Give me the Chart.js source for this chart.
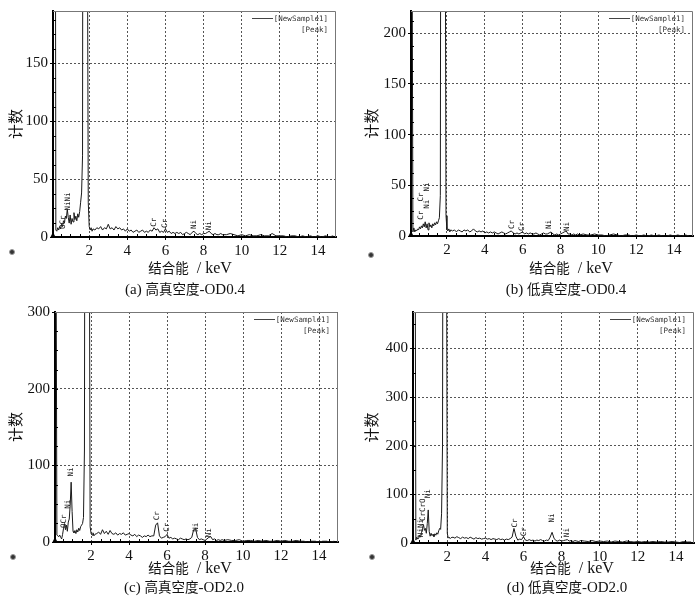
<!DOCTYPE html>
<html lang="zh">
<head>
<meta charset="UTF-8">
<title>EDS 能谱</title>
<script src="https://cdn.jsdelivr.net/npm/chart.js"></script>
<style>
  body { margin: 0; width: 700px; height: 596px; background: #fff; overflow: hidden; position: relative;
         font-family: "Liberation Serif", serif; color: #111; }
  .panel { position: absolute; width: 350px; height: 300px; }
  .xt, .cap { position: absolute; transform: translateX(-50%); white-space: nowrap; line-height: 16px; }
  .xt { font-size: 16px; }
  .cap { font-size: 15px; }
  .cjk { font-family: "Noto Sans CJK SC", sans-serif; font-size: 13.5px; }
  .dot { position: absolute; width: 4px; height: 4px; border-radius: 50%; background: #333; border: 1px solid #999; }
</style>
</head>
<body>
<div class="panel" style="left:0;top:0"><canvas id="pa"></canvas></div>
<div class="panel" style="left:350px;top:0"><canvas id="pb"></canvas></div>
<div class="panel" style="left:0;top:300px"><canvas id="pc"></canvas></div>
<div class="panel" style="left:350px;top:300px"><canvas id="pd"></canvas></div>

<div class="xt" style="left:190px;top:259px"><span class="cjk">结合能</span> &nbsp;/ keV</div>
<div class="xt" style="left:571px;top:259px"><span class="cjk">结合能</span> &nbsp;/ keV</div>
<div class="xt" style="left:190px;top:559px"><span class="cjk">结合能</span> &nbsp;/ keV</div>
<div class="xt" style="left:572px;top:559px"><span class="cjk">结合能</span> &nbsp;/ keV</div>

<div class="cap" style="left:185px;top:280px">(a) <span class="cjk">高真空度</span>-OD0.4</div>
<div class="cap" style="left:566px;top:280px">(b) <span class="cjk">低真空度</span>-OD0.4</div>
<div class="cap" style="left:184px;top:578px">(c) <span class="cjk">高真空度</span>-OD2.0</div>
<div class="cap" style="left:567px;top:578px">(d) <span class="cjk">低真空度</span>-OD2.0</div>

<div class="dot" style="left:9px;top:249px"></div>
<div class="dot" style="left:368px;top:252px"></div>
<div class="dot" style="left:10px;top:554px"></div>
<div class="dot" style="left:369px;top:554px"></div>

<script>
// energy channels (keV) shared by the four spectra
const energy = [
  0.10, 0.15, 0.20, 0.25, 0.30, 0.35, 0.40, 0.45, 0.50, 0.55,
  0.60, 0.65, 0.70, 0.75, 0.80, 0.85, 0.90, 0.95, 1.00, 1.05,
  1.10, 1.15, 1.20, 1.25, 1.30, 1.35, 1.40, 1.45, 1.50, 1.55,
  1.60, 1.65, 1.70, 1.75, 1.80, 1.85, 1.90, 1.95, 2.00, 2.05,
  2.10, 2.15, 2.20,
  2.3, 2.4, 2.5, 2.6, 2.7, 2.8, 2.9, 3.0, 3.1, 3.2,
  3.3, 3.4, 3.5, 3.6, 3.7, 3.8, 3.9, 4.0, 4.1, 4.2,
  4.3, 4.4, 4.5, 4.6, 4.7, 4.8, 4.9, 5.0, 5.1, 5.2,
  5.3, 5.4, 5.5, 5.6, 5.7, 5.8, 5.9, 6.0, 6.1, 6.2,
  6.3, 6.4, 6.5, 6.6, 6.7, 6.8, 6.9, 7.0, 7.1, 7.2,
  7.3, 7.4, 7.5, 7.6, 7.7, 7.8, 7.9, 8.0, 8.1, 8.2,
  8.3, 8.4, 8.5, 8.6, 8.7, 8.8, 8.9, 9.0,
  9.2, 9.4, 9.6, 9.8, 10.0, 10.2, 10.4, 10.6, 10.8, 11.0,
  11.2, 11.4, 11.6, 11.8, 12.0, 12.2, 12.4, 12.6, 12.8, 13.0,
  13.2, 13.4, 13.6, 13.8, 14.0, 14.2, 14.4, 14.6, 14.8
];

// (a) 高真空度-OD0.4
const countsA = [
  600, 600, 600, 6, 5, 8, 6, 9, 7, 11,
  9, 14, 12, 18, 16, 24, 17, 12, 19, 11,
  16, 13, 21, 15, 18, 14, 20, 17, 22, 30,
  38, 70, 900, 1400, 1100, 700, 300, 30, 9, 6,
  8, 5, 7,
  6, 8, 7, 9, 6, 8, 7, 11, 7, 8,
  6, 9, 7, 8, 6, 7, 5, 7, 5, 6,
  4, 5, 6, 4, 5, 6, 4, 5, 4, 6,
  5, 8, 6, 7, 4, 5, 4, 7, 4, 5,
  3, 4, 3, 4, 3, 4, 2, 3, 4, 3,
  2, 4, 5, 3, 2, 3, 2, 3, 3, 4,
  5, 3, 2, 3, 2, 2, 3, 2,
  2, 3, 2, 1, 2, 1, 2, 1, 1, 2,
  1, 1, 3, 1, 1, 1, 0, 1, 1, 0,
  1, 0, 1, 0, 1, 0, 1, 0, 1
];

// (b) 低真空度-OD0.4
const countsB = [
  700, 700, 4, 8, 4, 6, 5, 7, 6, 9,
  7, 10, 8, 12, 9, 14, 8, 12, 6, 13,
  9, 11, 8, 12, 10, 13, 11, 14, 12, 15,
  18, 40, 800, 1500, 1200, 800, 400, 20, 6, 5,
  7, 4, 6,
  5, 6, 4, 6, 5, 4, 6, 5, 6, 4,
  5, 7, 5, 4, 5, 4, 5, 3, 4, 3,
  4, 3, 4, 3, 2, 3, 4, 3, 2, 3,
  4, 5, 3, 2, 3, 2, 3, 4, 2, 3,
  2, 3, 2, 2, 3, 2, 1, 2, 3, 2,
  2, 3, 4, 2, 1, 2, 1, 2, 3, 4,
  5, 2, 2, 1, 2, 1, 2, 1,
  2, 1, 1, 2, 1, 1, 0, 1, 2, 1,
  0, 1, 1, 0, 1, 0, 1, 0, 1, 0,
  1, 0, 0, 1, 0, 1, 0, 1, 0
];

// (c) 高真空度-OD2.0
const countsC = [
  900, 900, 9, 8, 7, 9, 6, 4, 10, 18,
  24, 16, 22, 14, 26, 30, 48, 78, 40, 14,
  12, 15, 11, 16, 13, 18, 15, 20, 22, 24,
  32, 120, 1000, 1800, 1500, 1000, 500, 20, 11, 9,
  12, 8, 10,
  11, 13, 10, 16, 11, 14, 10, 15, 11, 10,
  12, 9, 11, 10, 12, 9, 10, 11, 9, 8,
  10, 7, 9, 8, 6, 8, 7, 9, 7, 8,
  8, 22, 25, 8, 5, 6, 7, 10, 5, 6,
  4, 5, 4, 3, 5, 4, 3, 4, 3, 4,
  6, 16, 18, 6, 3, 4, 3, 2, 4, 6,
  7, 3, 4, 2, 3, 2, 3, 2,
  3, 2, 2, 3, 1, 2, 2, 1, 2, 1,
  2, 1, 1, 2, 1, 2, 1, 1, 2, 1,
  1, 0, 1, 1, 0, 1, 1, 0, 1
];

// (d) 低真空度-OD2.0
const countsD = [
  900, 900, 900, 900, 900, 6, 12, 8, 10, 16,
  12, 22, 30, 38, 26, 30, 20, 40, 68, 24,
  14, 20, 15, 18, 13, 19, 16, 21, 18, 25,
  30, 28, 60, 200, 1500, 2200, 1600, 800, 20, 10,
  12, 9, 11,
  12, 10, 13, 11, 9, 12, 10, 11, 9, 12,
  10, 8, 11, 9, 10, 8, 9, 10, 8, 9,
  7, 9, 8, 7, 9, 7, 8, 6, 8, 7,
  9, 12, 30, 14, 6, 8, 7, 13, 6, 5,
  7, 5, 6, 4, 6, 5, 7, 5, 4, 6,
  5, 12, 22, 10, 5, 4, 6, 4, 5, 6,
  7, 4, 5, 3, 5, 4, 3, 5,
  4, 3, 5, 3, 4, 3, 4, 2, 4, 3,
  2, 4, 3, 2, 3, 2, 3, 2, 3, 2,
  3, 2, 2, 3, 2, 1, 3, 2, 2
];

const xTicks = [2, 4, 6, 8, 10, 12, 14];
const yTicksA = [0, 50, 100, 150];
const yTicksB = [0, 50, 100, 150, 200];
const yTicksC = [0, 100, 200, 300];
const yTicksD = [0, 100, 200, 300, 400];

// peak marks: [element, energy keV, count where the label starts]
const peaksA = [['OCr', 0.62, 6], ['NiNi', 0.88, 22], ['Cr', 5.42, 8], ['Cr', 6.0, 7], ['Ni', 7.5, 6], ['Ni', 8.28, 5]];
const peaksB = [['Cr', 0.62, 15], ['Ni', 0.94, 26], ['Cr', 0.62, 33], ['Ni', 0.93, 43],
                ['Cr', 5.44, 6], ['Cr', 5.98, 4], ['Ni', 7.42, 6], ['Ni', 8.35, 4]];
const peaksC = [['OCr', 0.6, 17], ['Ni', 0.81, 42], ['Ni', 0.93, 84], ['Cr', 5.46, 27], ['Cr', 5.98, 12], ['Ni', 7.53, 12], ['Ni', 8.2, 5]];
const peaksD = [['NiNi', 0.6, 10], ['CrCrO', 0.72, 43], ['Ni', 1.0, 90], ['Cr', 5.58, 30], ['Cr', 6.05, 12], ['Ni', 7.5, 40], ['Ni', 8.3, 10]];

const panels = [
  { id: 'pa', counts: countsA, yTicks: yTicksA, peaks: peaksA, xMin: 0.1, xMax: 14.95, yMax: 195, yMinor: 12.5,
    pad: { top: 5, right: 14 }, yWidth: 53, xHeight: 63, titlePad: 6 },
  { id: 'pb', counts: countsB, yTicks: yTicksB, peaks: peaksB, xMin: 0.1, xMax: 15.0, yMax: 222, yMinor: 12.5,
    pad: { top: 6, right: 7 }, yWidth: 61, xHeight: 64, titlePad: 12 },
  { id: 'pc', counts: countsC, yTicks: yTicksC, peaks: peaksC, xMin: 0.1, xMax: 15.0, yMax: 300, yMinor: 25,
    pad: { top: 12, right: 12 }, yWidth: 55, xHeight: 58, titlePad: 6 },
  { id: 'pd', counts: countsD, yTicks: yTicksD, peaks: peaksD, xMin: 0.2, xMax: 14.95, yMax: 475, yMinor: 50,
    pad: { top: 12, right: 6 }, yWidth: 63, xHeight: 57, titlePad: 12 }
];

const tickFont = { family: '"Liberation Serif", serif', size: 15 };

// frame, minor ticks, peak names, legend and origin marker
function decor(p) {
  return {
    id: 'decor_' + p.id,
    afterDraw(chart) {
      const { ctx, chartArea: a, scales: { x, y } } = chart;
      ctx.save();
      ctx.strokeStyle = '#777';
      ctx.lineWidth = 1;
      ctx.beginPath();
      ctx.moveTo(a.left, a.top + 0.5);
      ctx.lineTo(a.right - 0.5, a.top + 0.5);
      ctx.lineTo(a.right - 0.5, a.bottom);
      ctx.stroke();

      ctx.strokeStyle = '#000';
      ctx.beginPath();
      for (let v = 0.5; v < p.xMax; v += 0.5) {
        if (v < p.xMin || v % 2 === 0) continue;
        const px = Math.round(x.getPixelForValue(v)) + 0.5;
        ctx.moveTo(px, a.bottom);
        ctx.lineTo(px, a.bottom - 3);
      }
      for (let v = p.yMinor; v < p.yMax; v += p.yMinor) {
        const py = Math.round(y.getPixelForValue(v)) + 0.5;
        ctx.moveTo(a.left, py);
        ctx.lineTo(a.left + 3, py);
      }
      ctx.stroke();

      ctx.fillStyle = '#222';
      ctx.font = '7.5px "DejaVu Sans Mono", monospace';
      ctx.textAlign = 'left';
      ctx.textBaseline = 'middle';
      p.peaks.forEach(([name, e, c]) => {
        ctx.save();
        ctx.translate(x.getPixelForValue(e), y.getPixelForValue(c) - 1);
        ctx.rotate(-Math.PI / 2);
        ctx.fillText(name, 0, 0);
        ctx.restore();
      });

      ctx.strokeStyle = '#444';
      ctx.beginPath();
      ctx.moveTo(a.right - 84, a.top + 7.5);
      ctx.lineTo(a.right - 63, a.top + 7.5);
      ctx.stroke();
      ctx.textAlign = 'right';
      ctx.fillStyle = '#333';
      ctx.fillText('[NewSample1]', a.right - 8, a.top + 8);
      ctx.fillText('[Peak]', a.right - 8, a.top + 19);

      ctx.fillStyle = '#000';
      ctx.beginPath();
      ctx.moveTo(a.left - 3, a.bottom + 1);
      ctx.lineTo(a.left + 3, a.bottom + 1);
      ctx.lineTo(a.left, a.bottom - 5);
      ctx.closePath();
      ctx.fill();
      ctx.restore();
    }
  };
}

panels.forEach(p => {
  const pts = energy.map((e, i) => ({ x: e, y: p.counts[i] }));
  new Chart(document.getElementById(p.id), {
    type: 'line',
    data: {
      datasets: [{
        label: '[NewSample1]',
        data: pts,
        borderColor: '#1a1a1a',
        borderWidth: 1,
        pointRadius: 0,
        tension: 0
      }]
    },
    options: {
      responsive: true,
      maintainAspectRatio: false,
      animation: false,
      layout: { padding: { left: 0, top: p.pad.top, right: p.pad.right, bottom: 0 } },
      plugins: { legend: { display: false }, tooltip: { enabled: false } },
      scales: {
        x: {
          type: 'linear', min: p.xMin, max: p.xMax,
          afterBuildTicks: s => { s.ticks = xTicks.map(v => ({ value: v })); },
          afterFit: s => { s.height = p.xHeight; },
          ticks: { font: tickFont, color: '#111', padding: 2, maxRotation: 0, autoSkip: false },
          grid: { color: '#555', tickColor: '#000', tickLength: 3 },
          border: { color: '#000', width: 2, dash: [2, 2] }
        },
        y: {
          min: 0, max: p.yMax,
          afterBuildTicks: s => { s.ticks = p.yTicks.map(v => ({ value: v })); },
          afterFit: s => { s.width = p.yWidth; },
          ticks: { font: tickFont, color: '#111', padding: 2, autoSkip: false },
          grid: { color: '#555', tickColor: '#000', tickLength: 3 },
          border: { color: '#000', width: 2, dash: [2, 2] },
          title: { display: true, text: '计数', color: '#111',
                   font: { family: '"Noto Sans CJK SC", sans-serif', size: 15 },
                   padding: { top: p.titlePad, bottom: 0 } }
        }
      }
    },
    plugins: [decor(p)]
  });
});
</script>
</body>
</html>
